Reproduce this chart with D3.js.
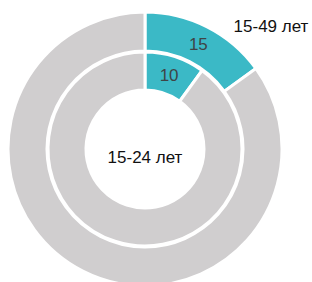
<!DOCTYPE html>
<html>
<head>
<meta charset="utf-8">
<script src="https://cdn.jsdelivr.net/npm/d3@7"></script>
<style>
  body { margin: 0; background: #fff; }
  text { font-family: "Liberation Sans", Arial, sans-serif; }
</style>
</head>
<body>
<div id="chart"></div>
<script>
var svgWidth = 312;
var svgHeight = 282;

// data
var outerValues = [15, 85];   // 15-49 лет
var innerValues = [10, 90];   // 15-24 лет
var outerLabel = "15-49 лет";
var innerLabel = "15-24 лет";
var sliceColors = ["#3bb9c6", "#d0cecf"];

var cx = 145, cy = 149;

var svg = d3.select("#chart")
    .append("svg")
    .attr("width", svgWidth)
    .attr("height", svgHeight);

var g = svg.append("g")
    .attr("transform", `translate(${cx}, ${cy})`);

var pie = d3.pie().sort(null).value(d => d);

var outerArc = d3.arc().innerRadius(98).outerRadius(137);
var innerArc = d3.arc().innerRadius(59).outerRadius(97);

function drawRing(values, arc) {
    var arcs = pie(values);
    g.append("g").selectAll("path")
        .data(arcs)
        .enter()
        .append("path")
        .attr("d", arc)
        .attr("fill", (d, i) => sliceColors[i])
        .attr("stroke", "#fff")
        .attr("stroke-width", 3)
        .attr("stroke-linejoin", "miter");

    // only the highlighted slice gets a number
    var c = arc.centroid(arcs[0]);
    g.append("text")
        .attr("x", c[0])
        .attr("y", c[1])
        .attr("dy", "0.36em")
        .attr("text-anchor", "middle")
        .attr("fill", "#3f4446")
        .style("font-size", "17px")
        .text(values[0]);
}

drawRing(outerValues, outerArc);
drawRing(innerValues, innerArc);

// labels
svg.append("text")
    .attr("x", 271)
    .attr("y", 32)
    .attr("text-anchor", "middle")
    .attr("fill", "#111")
    .style("font-size", "17px")
    .text(outerLabel);

g.append("text")
    .attr("x", 0)
    .attr("y", 8)
    .attr("dy", "0.36em")
    .attr("text-anchor", "middle")
    .attr("fill", "#111")
    .style("font-size", "17px")
    .text(innerLabel);
</script>
</body>
</html>
